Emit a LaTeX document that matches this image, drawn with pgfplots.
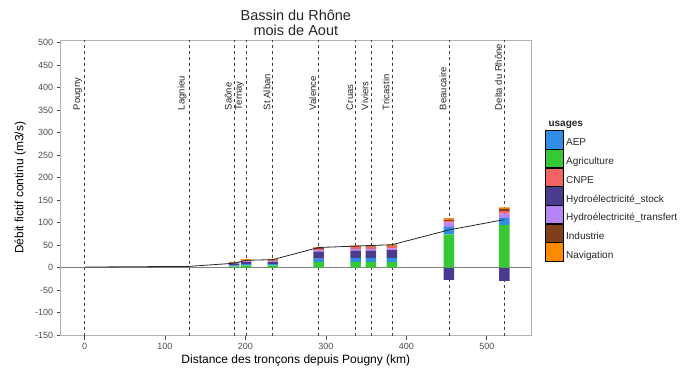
\documentclass[border=0pt]{standalone}
\usepackage{pgfplots}
\pgfplotsset{compat=1.18}
\usepackage{fontspec}
\setmainfont{Liberation Sans}
\definecolor{cAEP}{HTML}{2F8FE8}
\definecolor{cAgri}{HTML}{36C936}
\definecolor{cCNPE}{HTML}{F26363}
\definecolor{cStock}{HTML}{4B3B8F}
\definecolor{cTransf}{HTML}{B784F5}
\definecolor{cInd}{HTML}{7F3F1A}
\definecolor{cNav}{HTML}{FF8A00}
\begin{document}
\begin{tikzpicture}[x=1pt,y=1pt]
\useasboundingbox (0,0) rectangle (698,371);
\pgfplotsset{base/.style={at={(60.7pt,35.3pt)}, anchor=south west, scale only axis,
  width=470.3pt, height=295.7pt, xmin=-29.6, xmax=555, ymin=-151, ymax=506}}
% ---------- frame, ticks, guides, negative bars, legend ----------
\begin{axis}[base,
  axis line style={black!30, line width=0.6pt},
  xtick={0,100,...,500}, ytick={-150,-100,...,500},
  tick align=outside, major tick length=4pt,
  tick style={black!70, line width=0.6pt},
  xtick pos=bottom, ytick pos=left,
  ticklabel style={font=\fontsize{9}{10}\selectfont, text=black!70},
  /pgf/number format/assume math mode=true,
  xlabel={Distance des tronçons depuis Pougny (km)},
  ylabel={Débit fictif continu (m3/s)},
  every axis x label/.style={at={(axis description cs:0.5,-0.0933)}, anchor=base, font=\fontsize{12}{14}\selectfont},
  every axis y label/.style={at={(axis description cs:-0.0791,0.5)}, rotate=90, anchor=base, font=\fontsize{12}{14}\selectfont},
  legend style={at={(axis description cs:1.0298,0.6956)}, anchor=north west, draw=none, fill=none,
    inner sep=0pt, row sep=0pt, font=\fontsize{10}{11}\selectfont, text=black!85,
    nodes={inner sep=0pt}, /tikz/every odd column/.style={column sep=2.5pt}},
  legend cell align=left,
  legend image code/.code={\fill[#1] (0pt,-5.6pt) rectangle (18pt,12.7pt);},
]
\addlegendimage{fill=cAEP}\addlegendentry{AEP}
\addlegendimage{fill=cAgri}\addlegendentry{Agriculture}
\addlegendimage{fill=cCNPE}\addlegendentry{CNPE}
\addlegendimage{fill=cStock}\addlegendentry{Hydroélectricité\_stock}
\addlegendimage{fill=cTransf}\addlegendentry{Hydroélectricité\_transfert}
\addlegendimage{fill=cInd}\addlegendentry{Industrie}
\addlegendimage{fill=cNav}\addlegendentry{Navigation}
\pgfplotsinvokeforeach{0,130,186,201,234,291,337,356,382,453,522}{
  \addplot[forget plot, black!75, line width=0.55pt, dash pattern=on 3pt off 3pt] coordinates {(#1,-151) (#1,506)};
}
\addplot[forget plot, black!50, line width=0.7pt] coordinates {(-29.6,0) (555,0)};
\addplot[forget plot, ybar, bar width=13, bar shift=0pt, fill=cStock, draw=none] coordinates {(453,-27) (522,-29)};
\begin{scope}[every node/.style={xshift=-2.2pt, rotate=90, anchor=south west, inner sep=0pt, font=\fontsize{9.5}{10}\selectfont, text=black!85}]
\node at (axis cs:0,350) {Pougny};
\node at (axis cs:130,350) {Lagnieu};
\node at (axis cs:186,350) {Saône};
\node at (axis cs:201,350) {Ternay};
\node at (axis cs:234,350) {St Alban};
\node at (axis cs:291,350) {Valence};
\node at (axis cs:337,350) {Cruas};
\node at (axis cs:356,350) {Viviers};
\node at (axis cs:382,350) {Tricastin};
\node at (axis cs:453,350) {Beaucaire};
\node at (axis cs:522,350) {Delta du Rhône};
\end{scope}
\end{axis}
% ---------- positive stacked bars ----------
\begin{axis}[base, hide axis, ybar stacked, bar width=13]
% Agriculture
\addplot[fill=cAgri, draw=none] coordinates {(186,3) (201,5) (234,5) (291,13) (337,13) (356,13) (382,13) (453,74) (522,95)};
% AEP
\addplot[fill=cAEP, draw=none] coordinates {(186,2) (201,3) (234,3) (291,7) (337,9) (356,9) (382,9) (453,16) (522,16)};
% Hydroelectricite stock (positive part)
\addplot[fill=cStock, draw=none] coordinates {(186,4) (201,5) (234,5) (291,16) (337,16) (356,16) (382,17) (453,0) (522,0)};
% Hydroelectricite transfert
\addplot[fill=cTransf, draw=none] coordinates {(186,1) (201,1) (234,1) (291,3) (337,4) (356,4) (382,4) (453,10) (522,9)};
% CNPE
\addplot[fill=cCNPE, draw=none] coordinates {(186,1) (201,2) (234,2) (291,3) (337,4.5) (356,5) (382,5) (453,4) (522,6)};
% Industrie
\addplot[fill=cInd, draw=none] coordinates {(186,1) (201,1) (234,1) (291,1.5) (337,1) (356,1) (382,1) (453,3) (522,4.5)};
% Navigation
\addplot[fill=cNav, draw=none] coordinates {(186,1) (201,2) (234,2.5) (291,2.5) (337,2) (356,2.5) (382,3) (453,3) (522,3.5)};
\end{axis}
% ---------- continuous flow line ----------
\begin{axis}[base, hide axis]
\addplot[black!85, line width=0.8pt] coordinates {(0,1.5) (130,3) (186,10) (201,16.5) (234,18) (291,45) (337,48) (356,49.5) (382,51) (453,84) (522,107)};
\end{axis}
\node[anchor=base, font=\fontsize{14.5}{16}\selectfont, text=black!85] at (295.85,350.3) {Bassin du Rhône};
\node[anchor=base, font=\fontsize{14.5}{16}\selectfont, text=black!85] at (295.85,335) {mois de Aout};
\node[anchor=base west, font=\bfseries\fontsize{10}{12}\selectfont, text=black!85] at (545,244) {usages};
\end{tikzpicture}
\end{document}
